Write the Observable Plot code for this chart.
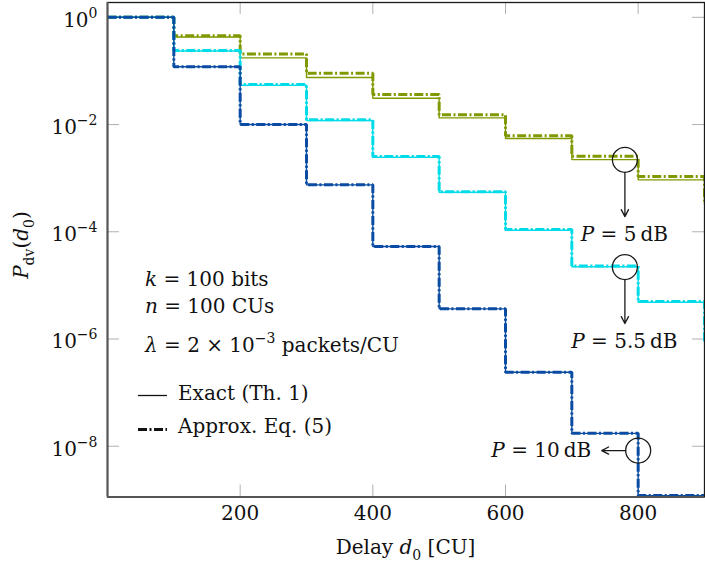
<!DOCTYPE html>
<html><head><meta charset="utf-8">
<script src="https://cdn.jsdelivr.net/npm/d3@7"></script>
<script src="https://cdn.jsdelivr.net/npm/@observablehq/plot@0.6"></script>
<style>
html,body{margin:0;padding:0;background:#fff;}
#chart{width:705px;height:566px;}
svg text{white-space:pre;}
</style></head><body><div id="chart"></div>
<script>
// ---- data ----
const delays = [0, 100, 200, 300, 400, 500, 600, 700, 800, 900, 1000];
const seriesNames = ["P = 5 dB", "P = 5.5 dB", "P = 10 dB"];
const seriesColors = ["#7f9a00", "#00dbe8", "#0a4ca3"];
// exact (Th. 1)
const exact5  = [1, 0.43, 0.175, 0.0753, 0.031, 0.0133, 5.5e-3, 2.22e-3, 9.3e-4, 3.3e-4, 3.3e-4];
const exact55 = [1, 0.235, 0.054, 0.0119, 2.45e-3, 5.45e-4, 1.07e-4, 2.22e-5, 4.85e-6, 9.0e-7, 9.0e-7];
const exact10 = [1, 0.12, 0.0100, 7.5e-4, 5.3e-5, 3.65e-6, 2.4e-7, 1.74e-8, 1.2e-9, 8e-11, 8e-11];
// approx. Eq. (5)
const approx5  = [1, 0.455, 0.208, 0.0906, 0.0363, 0.0152, 6.2e-3, 2.56e-3, 1.07e-3, 3.8e-4, 3.8e-4];
const approx55 = [1, 0.24, 0.0557, 0.0123, 2.53e-3, 5.6e-4, 1.1e-4, 2.3e-5, 5.0e-6, 9.3e-7, 9.3e-7];
const approx10 = [1, 0.12, 0.0100, 7.5e-4, 5.3e-5, 3.65e-6, 2.4e-7, 1.74e-8, 1.2e-9, 8e-11, 8e-11];

const xTicks = [200, 400, 600, 800];
const yTicks = [1, 1e-2, 1e-4, 1e-6, 1e-8];
const yDomain = [1.13e-9, 1.89];

// annotations (data coordinates)
const circles = [{x: 780, y: 2.2e-3}, {x: 780, y: 2.2e-5}, {x: 800, y: 8.3e-9}];
const arrows = [
  {x1: 780, y1: 2.2e-3, x2: 780, y2: 1.92e-4},
  {x1: 780, y1: 2.2e-5, x2: 780, y2: 1.94e-6},
  {x1: 800, y1: 8.3e-9, x2: 745, y2: 8.3e-9}
];
const annotLabels = [
  {x: 780, y: 8.9e-5, value: "5", anchor: "middle"},
  {x: 780, y: 8.9e-7, value: "5.5", anchor: "middle"},
  {x: 730, y: 8.3e-9, value: "10", anchor: "end"}
];

// ---- build ----
const W = 705, H = 566, mL = 107, mR = 1, mT = 2, mB = 69.5;
const pw = W - mL - mR, ph = H - mT - mB;

const exactSets = [exact5, exact55, exact10];
const approxSets = [approx5, approx55, approx10];
const lineMarks = [];
seriesNames.forEach((s, k) => {
  const ex = delays.map((d, i) => ({d, p: exactSets[k][i]}));
  const ap = delays.map((d, i) => ({d, p: approxSets[k][i]}));
  lineMarks.push(Plot.line(ex, {x: "d", y: "p", curve: "step-after", stroke: seriesColors[k], strokeWidth: 1.4, clip: true}));
  lineMarks.push(Plot.line(ap, {x: "d", y: "p", curve: "step-after", stroke: seriesColors[k], strokeWidth: 3, strokeDasharray: "9,2.5,2,2.5", strokeLinecap: "butt", strokeLinejoin: "miter", clip: true}));
});

const plot = Plot.plot({
  width: W, height: H,
  marginLeft: mL, marginRight: mR, marginTop: mT, marginBottom: mB,
  style: {fontFamily: "'DejaVu Serif', serif", fontSize: "20px", background: "#fff", color: "#111"},
  x: {domain: [0, 900], label: null},
  y: {type: "log", domain: yDomain, label: null},
  marks: [
    Plot.tickY(yTicks, {y: d => d, insetRight: pw - 12, stroke: "#b0b0b0", strokeWidth: 1}),
    Plot.tickY(yTicks, {y: d => d, insetLeft: pw - 12, stroke: "#b0b0b0", strokeWidth: 1}),
    Plot.tickX(xTicks, {x: d => d, insetTop: ph - 12, stroke: "#b0b0b0", strokeWidth: 1}),
    Plot.tickX(xTicks, {x: d => d, insetBottom: ph - 12, stroke: "#b0b0b0", strokeWidth: 1}),
    ...lineMarks,
    Plot.dot(circles, {x: "x", y: "y", r: 12.5, stroke: "#1a1a1a", strokeWidth: 1.3, fill: "none"}),
    Plot.arrow(arrows, {x1: "x1", y1: "y1", x2: "x2", y2: "y2", insetStart: 12.5, headLength: 9, headAngle: 55, stroke: "#1a1a1a", strokeWidth: 1.3}),
    Plot.axisX(xTicks, {tickSize: 0, tickPadding: 9, label: null}),
    Plot.axisY(yTicks, {tickSize: 0, tickPadding: 10, label: null, dy: 3, tickFormat: d => "10^" + Math.round(Math.log10(d))}),
    Plot.frame({stroke: "#1a1a1a", strokeWidth: 1.3}),
    Plot.ruleX([0], {stroke: "#555", strokeWidth: 2}),
    Plot.ruleY([yDomain[0]], {stroke: "#555", strokeWidth: 2})
  ]
});
document.getElementById("chart").appendChild(plot);

const svg = d3.select(plot);
// superscript exponents on y tick labels
svg.selectAll('g[aria-label="y-axis tick label"] text').each(function () {
  const t = d3.select(this);
  const [b, e] = t.text().split("^");
  t.text(null);
  t.append("tspan").text(b);
  t.append("tspan").attr("dy", -9).attr("font-size", 14).text(e.replace("-", "\u2212"));
});

// rich text helper
function rich(g, x, y, parts, {anchor = "start", rotate = 0, size = 20} = {}) {
  const t = g.append("text").attr("x", x).attr("y", y).attr("text-anchor", anchor)
    .attr("font-size", size).attr("fill", "#111");
  if (rotate) t.attr("transform", `rotate(${rotate},${x},${y})`);
  let shift = 0;
  for (const [s, k] of parts) {
    const ts = t.append("tspan").text(s);
    let target = 0, fs = size;
    if (k.includes("sub")) { target = size * 0.3; fs = size * 0.7; }
    if (k.includes("sup")) { target = -size * 0.45; fs = size * 0.7; }
    if (k.includes("i")) ts.attr("font-style", "italic");
    ts.attr("font-size", fs);
    if (target - shift !== 0) ts.attr("dy", target - shift);
    shift = target;
  }
  return t;
}

const sx = plot.scale("x"), sy = plot.scale("y");
const g = svg.append("g").attr("font-family", "'DejaVu Serif', serif");

// P = ... labels
for (const a of annotLabels) {
  rich(g, sx.apply(a.x), sy.apply(a.y) + 7, [["P", "i"], [" = ", ""], [a.value, ""], ["\u2009dB", ""]], {anchor: a.anchor});
}

// parameter block
rich(g, 145, 286, [["k", "i"], [" = 100 bits", ""]]);
rich(g, 145, 313, [["n", "i"], [" = 100 CUs", ""]]);
rich(g, 145, 352, [["λ", "i"], [" = 2 × 10", ""], ["\u22123", "sup"], [" packets/CU", ""]]);

// legend
g.append("line").attr("x1", 138).attr("x2", 167).attr("y1", 395.5).attr("y2", 395.5)
  .attr("stroke", "#111").attr("stroke-width", 1.3);
rich(g, 178, 400, [["Exact (Th. 1)", ""]]);
g.append("line").attr("x1", 138).attr("x2", 167).attr("y1", 429.5).attr("y2", 429.5)
  .attr("stroke", "#111").attr("stroke-width", 3).attr("stroke-dasharray", "9,2.5,2,2.5");
rich(g, 178, 433, [["Approx. Eq. (5)", ""]]);

// axis titles
rich(g, 405.5, 554, [["Delay ", ""], ["d", "i"], ["0", "sub"], [" [CU]", ""]], {anchor: "middle"});
rich(g, 28, 245, [["P", "i"], ["dv", "sub"], ["(", ""], ["d", "i"], ["0", "sub"], [")", ""]], {anchor: "middle", rotate: -90});
</script></body></html>
